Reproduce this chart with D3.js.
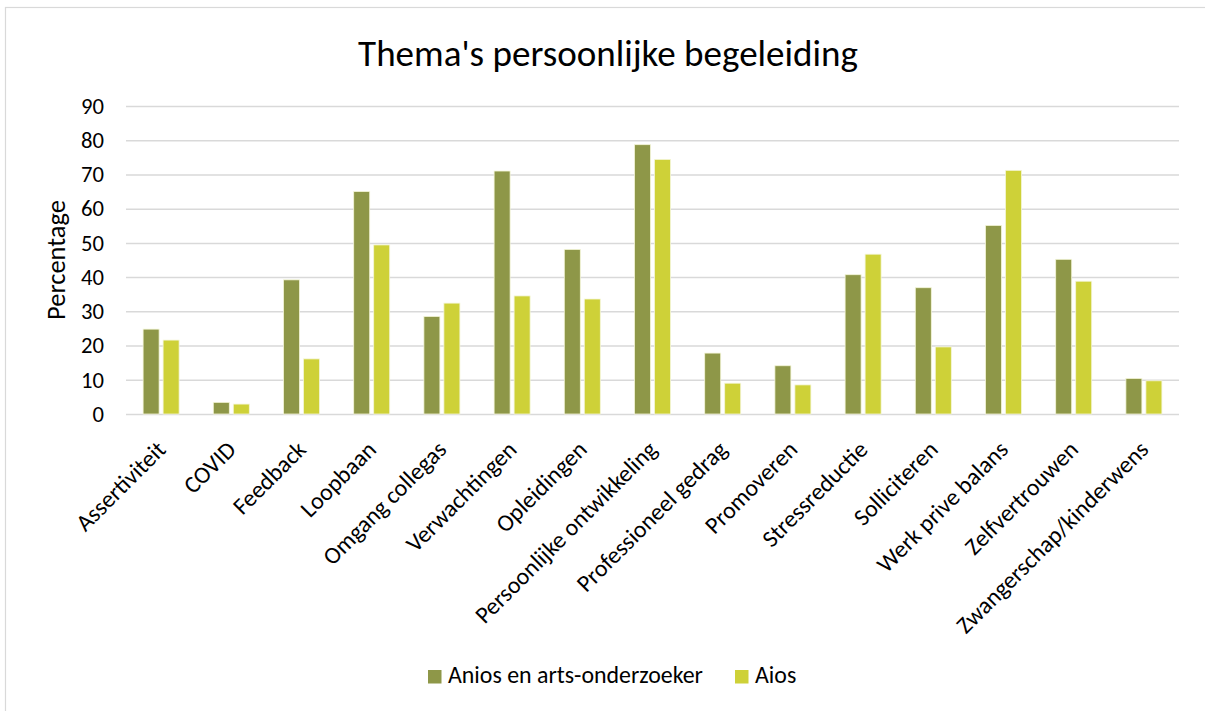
<!DOCTYPE html>
<html>
<head>
<meta charset="utf-8">
<script src="https://cdn.jsdelivr.net/npm/d3@7"></script>
<style>
  html, body { margin: 0; padding: 0; background: #fff; }
  svg { display: block; }
  text { font-family: Carlito, Calibri, "Open Sans", sans-serif; fill: #000; }
</style>
</head>
<body>
<svg id="chart" width="1205" height="711"></svg>
<script>
const categories = ["Assertiviteit", "COVID", "Feedback", "Loopbaan", "Omgang collegas", "Verwachtingen",
  "Opleidingen", "Persoonlijke ontwikkeling", "Professioneel gedrag", "Promoveren", "Stressreductie",
  "Solliciteren", "Werk prive balans", "Zelfvertrouwen", "Zwangerschap/kinderwens"];
const aniosValues = [24.8, 3.4, 39.2, 65.0, 28.5, 71.0, 48.1, 78.7, 17.8, 14.1, 40.7, 36.9, 55.1, 45.2, 10.4];
const aiosValues  = [21.6, 2.9, 16.1, 49.4, 32.4, 34.5, 33.6, 74.4, 9.0, 8.5, 46.7, 19.6, 71.2, 38.8, 9.7];
const seriesNames = ["Anios en arts-onderzoeker", "Aios"];
const seriesColors = ["#8e9748", "#ced138"];
const yTicks = [0, 10, 20, 30, 40, 50, 60, 70, 80, 90];
const chartTitle = "Thema's persoonlijke begeleiding";
const yTitle = "Percentage";

const svg = d3.select("#chart");
const W = 1205, H = 711;
const plot = { left: 126, right: 1179, top: 106, bottom: 414 };

function fit(sel, target) {
  const fs = parseFloat(sel.attr("font-size"));
  const w = sel.node().getComputedTextLength();
  const nfs = fs * target / w;
  sel.attr("font-size", nfs);
  return nfs;
}

svg.append("rect").attr("x", 5.5).attr("y", 7.5).attr("width", W + 10).attr("height", H + 10)
  .attr("fill", "#fff").attr("stroke", "#d9d9d9").attr("stroke-width", 1.2);

const x = d3.scaleBand().domain(categories).range([plot.left, plot.right]).padding(0);
const xInner = d3.scaleBand().domain(seriesNames).range([-18, 18]).paddingInner(0.2).paddingOuter(0);
const y = d3.scaleLinear().domain([0, 90]).range([plot.bottom, plot.top]);

const yAxisG = svg.append("g").attr("transform", `translate(${plot.left},0)`)
  .call(d3.axisLeft(y).tickValues(yTicks).tickSize(-(plot.right - plot.left)).tickPadding(22));
yAxisG.select(".domain").remove();
yAxisG.selectAll(".tick line").attr("stroke", "#d9d9d9").attr("stroke-width", 1.5);
yAxisG.selectAll(".tick text").attr("font-size", 22).attr("fill", "#000")
  .attr("font-family", "Carlito, Calibri, 'Open Sans', sans-serif");
const tick90 = yAxisG.selectAll(".tick text").filter(d => d === 90);
const yfs = fit(tick90, 23);
yAxisG.selectAll(".tick text").attr("font-size", yfs);

const data = categories.map((c, i) => ({ c, vals: [aniosValues[i], aiosValues[i]] }));
const groups = svg.append("g").selectAll("g").data(data).join("g")
  .attr("transform", d => `translate(${x(d.c) + x.bandwidth() / 2},0)`);
groups.selectAll("rect").data(d => d.vals.map((v, k) => ({ v, s: seriesNames[k], k })))
  .join("rect")
  .attr("x", d => xInner(d.s))
  .attr("width", xInner.bandwidth())
  .attr("y", d => y(d.v))
  .attr("height", d => y(0) - y(d.v))
  .attr("fill", d => seriesColors[d.k])
  .attr("stroke", "#f4f6d8").attr("stroke-width", 0.8);

const xAxisG = svg.append("g").attr("transform", `translate(0,${plot.bottom})`)
  .call(d3.axisBottom(x).tickSize(0).tickPadding(0));
xAxisG.select(".domain").remove();
xAxisG.selectAll(".tick text")
  .attr("font-size", 22).attr("fill", "#000")
  .attr("font-family", "Carlito, Calibri, 'Open Sans', sans-serif")
  .attr("text-anchor", "end")
  .attr("dy", 0).attr("y", 0)
  .attr("transform", "translate(6,37) rotate(-45)");
const longLbl = xAxisG.selectAll(".tick text").filter(d => d === "Persoonlijke ontwikkeling");
const xfs = fit(longLbl, 246);
xAxisG.selectAll(".tick text").attr("font-size", xfs);

const title = svg.append("text").attr("x", 608).attr("y", 66).attr("text-anchor", "middle")
  .attr("font-size", 32).attr("font-weight", 300).text(chartTitle);
fit(title, 500);

const yt = svg.append("text").attr("transform", "translate(65,260) rotate(-90)")
  .attr("text-anchor", "middle").attr("font-size", 26).text(yTitle);
fit(yt, 120);

const legend = svg.append("g");
const legX = [428, 735];
let lfs = null;
seriesNames.forEach((name, k) => {
  legend.append("rect").attr("x", legX[k]).attr("y", 670).attr("width", 13.5).attr("height", 13.5)
    .attr("fill", seriesColors[k]);
  const t = legend.append("text").attr("x", legX[k] + 20).attr("y", 682.5)
    .attr("font-size", 22).text(name);
  if (k === 0) lfs = fit(t, 255);
  else t.attr("font-size", lfs);
});
</script>
</body>
</html>
